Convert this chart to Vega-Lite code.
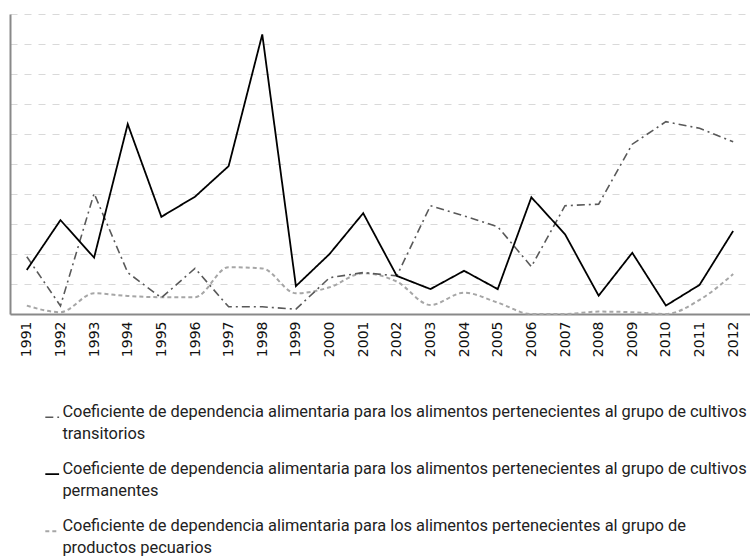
{
  "$schema": "https://vega.github.io/schema/vega-lite/v6.json",
  "width": 740,
  "height": 300,
  "autosize": {"type": "none"},
  "padding": {"left": 10, "top": 14, "right": 0, "bottom": 244},
  "background": "white",
  "config": {
    "view": {"stroke": null},
    "axis": {"ticks": false, "domainColor": "#898989", "domainWidth": 2, "labelFont": "DejaVu Sans", "labelFontSize": 14, "labelColor": "#111111"},
    "legend": {"labelFont": "Roboto", "labelFontSize": 16.4, "labelColor": "#222222"}
  },
  "data": {"values": [
    {"year": "1991", "serie": "T", "value": 1.91},
    {"year": "1992", "serie": "T", "value": 0.27},
    {"year": "1993", "serie": "T", "value": 4.02},
    {"year": "1994", "serie": "T", "value": 1.38},
    {"year": "1995", "serie": "T", "value": 0.54},
    {"year": "1996", "serie": "T", "value": 1.52},
    {"year": "1997", "serie": "T", "value": 0.24},
    {"year": "1998", "serie": "T", "value": 0.24},
    {"year": "1999", "serie": "T", "value": 0.16},
    {"year": "2000", "serie": "T", "value": 1.21},
    {"year": "2001", "serie": "T", "value": 1.38},
    {"year": "2002", "serie": "T", "value": 1.27},
    {"year": "2003", "serie": "T", "value": 3.61},
    {"year": "2004", "serie": "T", "value": 3.27},
    {"year": "2005", "serie": "T", "value": 2.91},
    {"year": "2006", "serie": "T", "value": 1.58},
    {"year": "2007", "serie": "T", "value": 3.61},
    {"year": "2008", "serie": "T", "value": 3.66},
    {"year": "2009", "serie": "T", "value": 5.66},
    {"year": "2010", "serie": "T", "value": 6.41},
    {"year": "2011", "serie": "T", "value": 6.19},
    {"year": "2012", "serie": "T", "value": 5.74},
    {"year": "1991", "serie": "P", "value": 1.47},
    {"year": "1992", "serie": "P", "value": 3.13},
    {"year": "1993", "serie": "P", "value": 1.88},
    {"year": "1994", "serie": "P", "value": 6.33},
    {"year": "1995", "serie": "P", "value": 3.24},
    {"year": "1996", "serie": "P", "value": 3.91},
    {"year": "1997", "serie": "P", "value": 4.93},
    {"year": "1998", "serie": "P", "value": 9.32},
    {"year": "1999", "serie": "P", "value": 0.93},
    {"year": "2000", "serie": "P", "value": 2.0},
    {"year": "2001", "serie": "P", "value": 3.36},
    {"year": "2002", "serie": "P", "value": 1.27},
    {"year": "2003", "serie": "P", "value": 0.83},
    {"year": "2004", "serie": "P", "value": 1.44},
    {"year": "2005", "serie": "P", "value": 0.83},
    {"year": "2006", "serie": "P", "value": 3.89},
    {"year": "2007", "serie": "P", "value": 2.66},
    {"year": "2008", "serie": "P", "value": 0.61},
    {"year": "2009", "serie": "P", "value": 2.04},
    {"year": "2010", "serie": "P", "value": 0.28},
    {"year": "2011", "serie": "P", "value": 0.97},
    {"year": "2012", "serie": "P", "value": 2.77},
    {"year": "1991", "serie": "C", "value": 0.28},
    {"year": "1992", "serie": "C", "value": 0.06},
    {"year": "1993", "serie": "C", "value": 0.69},
    {"year": "1994", "serie": "C", "value": 0.6},
    {"year": "1995", "serie": "C", "value": 0.56},
    {"year": "1996", "serie": "C", "value": 0.56},
    {"year": "1997", "serie": "C", "value": 1.56},
    {"year": "1998", "serie": "C", "value": 1.52},
    {"year": "1999", "serie": "C", "value": 0.69},
    {"year": "2000", "serie": "C", "value": 0.89},
    {"year": "2001", "serie": "C", "value": 1.36},
    {"year": "2002", "serie": "C", "value": 1.08},
    {"year": "2003", "serie": "C", "value": 0.3},
    {"year": "2004", "serie": "C", "value": 0.71},
    {"year": "2005", "serie": "C", "value": 0.38},
    {"year": "2006", "serie": "C", "value": 0.0},
    {"year": "2007", "serie": "C", "value": 0.0},
    {"year": "2008", "serie": "C", "value": 0.08},
    {"year": "2009", "serie": "C", "value": 0.06},
    {"year": "2010", "serie": "C", "value": 0.0},
    {"year": "2011", "serie": "C", "value": 0.47},
    {"year": "2012", "serie": "C", "value": 1.33}
  ]},
  "encoding": {
    "x": {"field": "year", "type": "ordinal", "scale": {"type": "point", "padding": 0.5},
      "axis": {"title": null, "labelAngle": 270, "labelPadding": 7, "grid": false, "domainColor": "#898989"}},
    "y": {"field": "value", "type": "quantitative", "scale": {"domain": [0, 10], "nice": false},
      "axis": {"title": null, "labels": false, "values": [0,1,2,3,4,5,6,7,8,9,10], "grid": true, "gridColor": "#d9d9d9", "gridDash": [7, 7], "gridWidth": 1}},
    "color": {"field": "serie", "type": "nominal",
      "scale": {"domain": ["T", "P", "C"], "range": ["#595959", "#000000", "#a6a6a6"]},
      "legend": {"orient": "none", "legendX": 34, "legendY": 395, "direction": "vertical", "title": null,
        "symbolType": "stroke", "symbolSize": 190, "labelLimit": 900, "rowPadding": 18, "labelOffset": 2, "labelBaseline": "alphabetic",
        "encode": {"labels": {"update": {"lineHeight": {"value": 22}}}},
        "labelExpr": "datum.label == 'T' ? ['Coeficiente de dependencia alimentaria para los alimentos pertenecientes al grupo de cultivos', 'transitorios'] : datum.label == 'P' ? ['Coeficiente de dependencia alimentaria para los alimentos pertenecientes al grupo de cultivos', 'permanentes'] : ['Coeficiente de dependencia alimentaria para los alimentos pertenecientes al grupo de', 'productos pecuarios']"}},
    "strokeDash": {"field": "serie", "type": "nominal", "scale": {"domain": ["T", "P", "C"], "range": [[8, 4, 2, 4], [1, 0], [4, 3]]}},
    "strokeWidth": {"field": "serie", "type": "nominal", "scale": {"domain": ["T", "P", "C"], "range": [1.6, 2, 2.6]}}
  },
  "layer": [
    {"transform": [{"filter": "datum.serie == 'C'"}], "mark": {"type": "line", "interpolate": "monotone"}},
    {"transform": [{"filter": "datum.serie == 'T'"}], "mark": {"type": "line"}},
    {"transform": [{"filter": "datum.serie == 'P'"}], "mark": {"type": "line"}}
  ]
}
